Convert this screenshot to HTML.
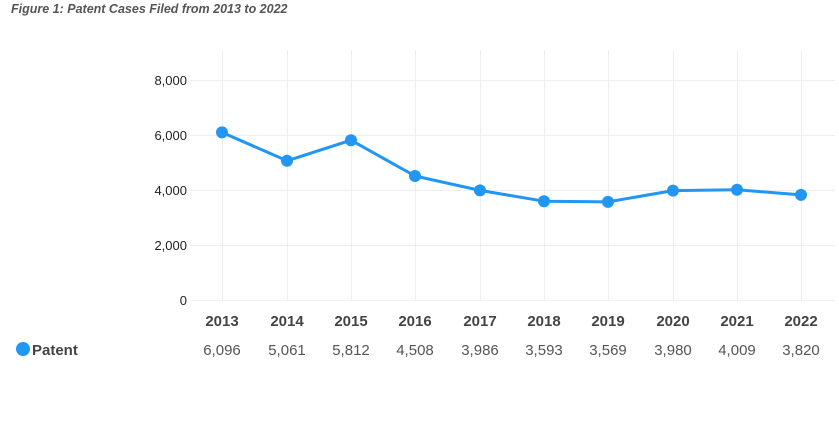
<!DOCTYPE html>
<html><head><style>
body{margin:0;width:839px;height:420px;background:#fff;overflow:hidden;font-family:"Liberation Sans",sans-serif}
</style></head><body>
<svg width="839" height="420" xmlns="http://www.w3.org/2000/svg" font-family="Liberation Sans, sans-serif">
<text x="11" y="13" font-size="12.5" font-style="italic" font-weight="bold" fill="#555">Figure 1: Patent Cases Filed from 2013 to 2022</text>
<g stroke="#eeeeee" stroke-width="1">
<line x1="190" x2="835" y1="80.5" y2="80.5"/>
<line x1="190" x2="835" y1="135.5" y2="135.5"/>
<line x1="190" x2="835" y1="190.5" y2="190.5"/>
<line x1="190" x2="835" y1="245.5" y2="245.5"/>
<line x1="190" x2="835" y1="300.5" y2="300.5"/>
<line x1="222.5" x2="222.5" y1="50" y2="300"/>
<line x1="287.5" x2="287.5" y1="50" y2="300"/>
<line x1="351.5" x2="351.5" y1="50" y2="300"/>
<line x1="415.5" x2="415.5" y1="50" y2="300"/>
<line x1="480.5" x2="480.5" y1="50" y2="300"/>
<line x1="544.5" x2="544.5" y1="50" y2="300"/>
<line x1="608.5" x2="608.5" y1="50" y2="300"/>
<line x1="673.5" x2="673.5" y1="50" y2="300"/>
<line x1="737.5" x2="737.5" y1="50" y2="300"/>
<line x1="801.5" x2="801.5" y1="50" y2="300"/>
</g>
<g font-size="13" fill="#222" text-anchor="end">
<text x="187" y="85">8,000</text>
<text x="187" y="140">6,000</text>
<text x="187" y="195">4,000</text>
<text x="187" y="250">2,000</text>
<text x="187" y="305">0</text>
</g>
<polyline fill="none" stroke="#2196f3" stroke-width="3" stroke-linejoin="round" points="222,132.4 287,160.8 351,140.2 415,176.0 480,190.4 544,201.2 608,201.9 673,190.6 737,189.8 801,194.9"/>
<g fill="#2196f3">
<circle cx="222" cy="132.4" r="6"/><circle cx="287" cy="160.8" r="6"/><circle cx="351" cy="140.2" r="6"/><circle cx="415" cy="176.0" r="6"/><circle cx="480" cy="190.4" r="6"/><circle cx="544" cy="201.2" r="6"/><circle cx="608" cy="201.9" r="6"/><circle cx="673" cy="190.6" r="6"/><circle cx="737" cy="189.8" r="6"/><circle cx="801" cy="194.9" r="6"/>
</g>
<g font-size="15" font-weight="bold" fill="#444" text-anchor="middle">
<text x="222" y="326">2013</text><text x="287" y="326">2014</text><text x="351" y="326">2015</text><text x="415" y="326">2016</text><text x="480" y="326">2017</text><text x="544" y="326">2018</text><text x="608" y="326">2019</text><text x="673" y="326">2020</text><text x="737" y="326">2021</text><text x="801" y="326">2022</text>
</g>
<circle cx="23" cy="349" r="7" fill="#2196f3"/>
<text x="32" y="355" font-size="15" font-weight="bold" fill="#444">Patent</text>
<g font-size="15" fill="#555" text-anchor="middle">
<text x="222" y="355">6,096</text><text x="287" y="355">5,061</text><text x="351" y="355">5,812</text><text x="415" y="355">4,508</text><text x="480" y="355">3,986</text><text x="544" y="355">3,593</text><text x="608" y="355">3,569</text><text x="673" y="355">3,980</text><text x="737" y="355">4,009</text><text x="801" y="355">3,820</text>
</g>
</svg>
</body></html>
